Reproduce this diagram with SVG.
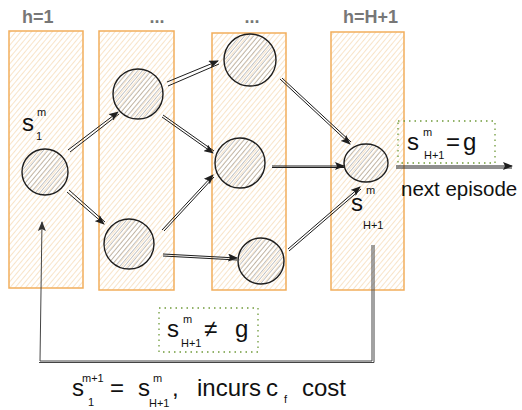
<svg xmlns="http://www.w3.org/2000/svg" width="522" height="410" viewBox="0 0 522 410">
<defs>
<pattern id="hatchO" patternUnits="userSpaceOnUse" width="4" height="4" patternTransform="rotate(40)">
<line x1="0" y1="0" x2="0" y2="4" stroke="#eec48a" stroke-width="1.1" opacity="0.85"/>
</pattern>
<pattern id="hatchG" patternUnits="userSpaceOnUse" width="3.5" height="3.5" patternTransform="rotate(40)">
<line x1="0" y1="0" x2="0" y2="3.5" stroke="#8a8a8a" stroke-width="1.2" opacity="0.8"/>
</pattern>
<marker id="ah" markerWidth="10" markerHeight="8" refX="9" refY="4" orient="auto" markerUnits="userSpaceOnUse">
<path d="M0,0 L10,4 L0,8 L2,4 Z" fill="#1e1e1e"/>
</marker>
<marker id="ahg" markerWidth="10" markerHeight="8" refX="9" refY="4" orient="auto" markerUnits="userSpaceOnUse">
<path d="M0,0 L10,4 L0,8 L2,4 Z" fill="#333"/>
</marker>
</defs>
<style>
.col{fill:url(#hatchO);stroke:#f2ae5c;stroke-width:1.5}
.node{fill:url(#hatchG);stroke:#1e1e1e;stroke-width:1.4}
.hdr{font-family:"Liberation Sans",Arial,sans-serif;font-size:18px;fill:#777;font-weight:bold}
.t{font-family:"Liberation Sans",Arial,sans-serif;font-size:24px;fill:#111}
.s{font-family:"Liberation Sans",Arial,sans-serif;font-size:11px;fill:#111}
.m{font-family:"Liberation Sans",Arial,sans-serif;font-size:20.5px;fill:#111}
.box{fill:none;stroke:#6f9a3a;stroke-width:1.3;stroke-dasharray:1.5 4}
.e{fill:none;stroke:#1e1e1e;stroke-width:1}
.lp{fill:none;stroke:#444;stroke-width:1}
</style>
<g id="headers">
<text class="hdr" x="22" y="23">h=1</text>
<text class="hdr" x="157" y="23" text-anchor="middle">...</text>
<text class="hdr" x="252" y="23" text-anchor="middle">...</text>
<text class="hdr" x="343" y="23">h=H+1</text>
</g>
<g id="col1"><rect class="col" x="9" y="31" width="74" height="257"/></g>
<g id="col2"><rect class="col" x="99" y="31" width="75" height="259"/></g>
<g id="col3"><rect class="col" x="212" y="33" width="74" height="257"/></g>
<g id="col4"><rect class="col" x="331" y="32" width="73" height="258"/></g>
<g id="connectors">
<g class="e">
<path d="M68,150 L118,112" marker-end="url(#ah)"/><path d="M70,152 L119,114"/>
<path d="M67,192 L104,224" marker-end="url(#ah)"/><path d="M69,190 L105,222"/>
<path d="M167,82 L218,61" marker-end="url(#ah)"/><path d="M168,86 L219,64"/>
<path d="M162,117 L213,153" marker-end="url(#ah)"/><path d="M163,115 L214,151"/>
<path d="M162,230 L213,175" marker-end="url(#ah)"/><path d="M164,231 L214,177"/>
<path d="M163,254 L237,258" marker-end="url(#ah)"/><path d="M163,256 L237,260"/>
<path d="M280,79 L350,144" marker-end="url(#ah)"/><path d="M282,78 L351,142"/>
<path d="M272,166 L344,166" marker-end="url(#ah)"/><path d="M272,167.5 L344,167.5"/>
<path d="M288,249 L360,187" marker-end="url(#ah)"/><path d="M289,251 L361,189"/>
<path d="M396,166 L512,166" marker-end="url(#ah)"/><path d="M396,168 L512,168"/>
</g>
<g class="lp">
<path d="M372,245 L372,361 L40,361 L42,222" marker-end="url(#ahg)"/>
<path d="M374,245 L374,362.5 L39,362.5"/>
</g>
</g>
<g id="nA"><circle class="node" cx="45" cy="172" r="23"/></g>
<g id="nB"><circle class="node" cx="138" cy="94" r="25"/></g>
<g id="nC"><circle class="node" cx="129" cy="244" r="25"/></g>
<g id="nD"><circle class="node" cx="250" cy="60" r="26"/></g>
<g id="nE"><circle class="node" cx="240" cy="163" r="25"/></g>
<g id="nF"><circle class="node" cx="261" cy="261" r="23"/></g>
<g id="nG"><ellipse class="node" cx="366" cy="163" rx="22" ry="19"/></g>
<g id="lbl-s1">
<text class="t" x="22" y="131">s</text>
<text class="s" x="37" y="116">m</text>
<text class="s" x="36" y="140">1</text>
</g>
<g id="lbl-sH">
<text class="t" x="351" y="211">s</text>
<text class="s" x="366" y="194">m</text>
<text class="s" x="363" y="229">H+1</text>
</g>
<g id="box-eq">
<rect class="box" x="398" y="121" width="97" height="42"/>
<text class="t" x="407" y="150">s</text>
<text class="s" x="423" y="136">m</text>
<text class="s" x="424" y="159">H+1</text>
<text class="t" x="446" y="150">=</text>
<text class="t" x="463" y="150">g</text>
</g>
<text id="next" class="m" x="401" y="196">next episode</text>
<g id="box-neq">
<rect class="box" x="159" y="308" width="99" height="44"/>
<text class="t" x="167" y="337">s</text>
<text class="s" x="183" y="323">m</text>
<text class="s" x="181" y="347">H+1</text>
<text class="t" x="204" y="337">≠</text>
<text class="t" x="235" y="337">g</text>
</g>
<g id="bottom">
<text class="t" x="72" y="396">s</text>
<text class="s" x="82" y="382">m+1</text>
<text class="s" x="88" y="406">1</text>
<text class="t" x="110" y="396">=</text>
<text class="t" x="138" y="396">s</text>
<text class="s" x="153" y="382">m</text>
<text class="s" x="149" y="407">H+1</text>
<text class="t" x="172" y="396">,</text>
<text class="t" x="197" y="396">incurs</text>
<text class="t" x="266" y="396">c</text>
<text class="s" x="284" y="403">f</text>
<text class="t" x="302" y="396">cost</text>
</g>
</svg>
